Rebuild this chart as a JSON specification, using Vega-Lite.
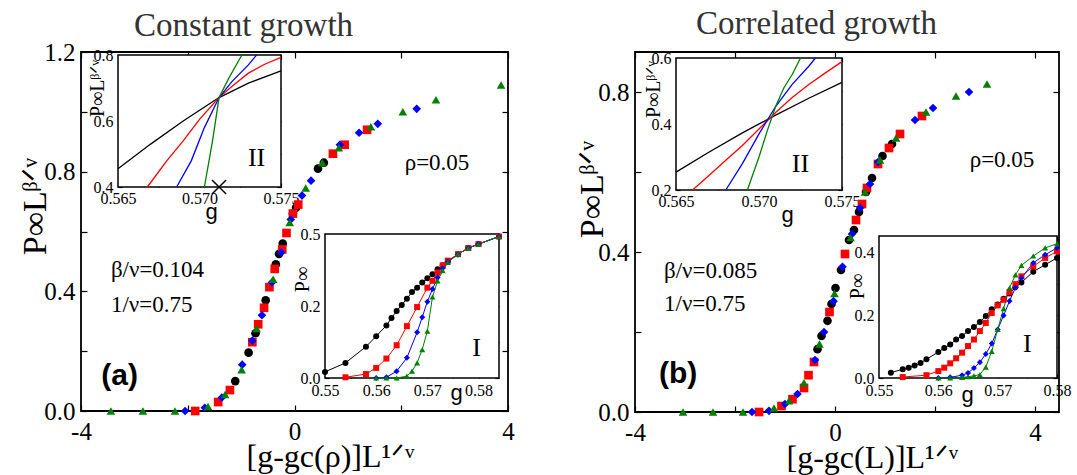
{
"$schema": "https://vega.github.io/schema/vega-lite/v6.json",
"background": "white",
"padding": {"left": 17, "top": 7, "right": 5, "bottom": 3},
"spacing": 58,
"config": {
  "view": {"stroke": "black", "strokeWidth": 1.8},
  "axis": {"grid": false, "domain": false, "tickColor": "black", "tickWidth": 1.2, "labelColor": "black", "labelFont": "Liberation Serif", "titleFont": "Liberation Serif", "titleColor": "black", "titleFontWeight": "normal", "zindex": 1, "labelOverlap": false, "labelFlush": false, "labelBound": false},
  "text": {"font": "Liberation Serif", "color": "black"}
},
"datasets": {
  "mainA": [
    {"s":"a","x":-1.11,"y":0.10},{"s":"a","x":-0.86,"y":0.195},{"s":"a","x":-0.73,"y":0.26},{"s":"a","x":-0.54,"y":0.37},{"s":"a","x":-0.35,"y":0.49},{"s":"a","x":-0.29,"y":0.525},{"s":"a","x":-0.22,"y":0.56},{"s":"a","x":-0.03,"y":0.66},{"s":"a","x":0.03,"y":0.68},{"s":"a","x":0.44,"y":0.81},{"s":"a","x":0.55,"y":0.83},
    {"s":"b","x":-1.86,"y":0.0},{"s":"b","x":-1.43,"y":0.03},{"s":"b","x":-1.21,"y":0.07},{"s":"b","x":-0.79,"y":0.23},{"s":"b","x":-0.68,"y":0.29},{"s":"b","x":-0.57,"y":0.345},{"s":"b","x":-0.47,"y":0.414},{"s":"b","x":-0.37,"y":0.475},{"s":"b","x":-0.23,"y":0.54},{"s":"b","x":-0.15,"y":0.595},{"s":"b","x":-0.03,"y":0.66},{"s":"b","x":0.07,"y":0.69},{"s":"b","x":0.72,"y":0.86},{"s":"b","x":0.94,"y":0.89},{"s":"b","x":1.36,"y":0.94},
    {"s":"c","x":-2.05,"y":0.0},{"s":"c","x":-1.68,"y":0.011},{"s":"c","x":-1.36,"y":0.045},{"s":"c","x":-0.98,"y":0.155},{"s":"c","x":-0.79,"y":0.235},{"s":"c","x":-0.61,"y":0.32},{"s":"c","x":-0.42,"y":0.43},{"s":"c","x":-0.25,"y":0.53},{"s":"c","x":-0.07,"y":0.64},{"s":"c","x":0.14,"y":0.72},{"s":"c","x":0.31,"y":0.77},{"s":"c","x":0.85,"y":0.89},{"s":"c","x":1.21,"y":0.93},{"s":"c","x":1.56,"y":0.96},{"s":"c","x":2.29,"y":1.01},
    {"s":"d","x":-3.44,"y":0.0},{"s":"d","x":-2.84,"y":0.0},{"s":"d","x":-2.24,"y":0.0},{"s":"d","x":-1.62,"y":0.015},{"s":"d","x":-1.3,"y":0.055},{"s":"d","x":-0.99,"y":0.138},{"s":"d","x":-0.71,"y":0.276},{"s":"d","x":-0.40,"y":0.44},{"s":"d","x":-0.09,"y":0.63},{"s":"d","x":0.21,"y":0.745},{"s":"d","x":0.52,"y":0.83},{"s":"d","x":0.83,"y":0.88},{"s":"d","x":1.43,"y":0.95},{"s":"d","x":2.03,"y":1.0},{"s":"d","x":2.65,"y":1.04},{"s":"d","x":3.87,"y":1.09}
  ],
  "mainB": [
    {"s":"a","x":-0.35,"y":0.157},{"s":"a","x":-0.27,"y":0.19},{"s":"a","x":-0.15,"y":0.228},{"s":"a","x":-0.07,"y":0.27},{"s":"a","x":0.01,"y":0.31},{"s":"a","x":0.12,"y":0.355},{"s":"a","x":0.28,"y":0.43},{"s":"a","x":0.38,"y":0.455},{"s":"a","x":0.48,"y":0.50},{"s":"a","x":0.62,"y":0.55},{"s":"a","x":0.74,"y":0.585},{"s":"a","x":0.95,"y":0.64},{"s":"a","x":1.14,"y":0.67},
    {"s":"b","x":-1.52,"y":0.0},{"s":"b","x":-1.07,"y":0.015},{"s":"b","x":-0.85,"y":0.032},{"s":"b","x":-0.62,"y":0.06},{"s":"b","x":-0.53,"y":0.092},{"s":"b","x":-0.42,"y":0.125},{"s":"b","x":-0.11,"y":0.25},{"s":"b","x":0.2,"y":0.395},{"s":"b","x":0.42,"y":0.48},{"s":"b","x":0.54,"y":0.52},{"s":"b","x":0.64,"y":0.56},{"s":"b","x":0.86,"y":0.62},{"s":"b","x":1.08,"y":0.66},{"s":"b","x":1.3,"y":0.695},{"s":"b","x":1.74,"y":0.74},
    {"s":"c","x":-1.66,"y":0.0},{"s":"c","x":-1.32,"y":0.003},{"s":"c","x":-1.0,"y":0.02},{"s":"c","x":-0.75,"y":0.045},{"s":"c","x":-0.4,"y":0.13},{"s":"c","x":-0.22,"y":0.2},{"s":"c","x":-0.03,"y":0.277},{"s":"c","x":0.15,"y":0.363},{"s":"c","x":0.34,"y":0.445},{"s":"c","x":0.5,"y":0.51},{"s":"c","x":0.7,"y":0.57},{"s":"c","x":0.86,"y":0.625},{"s":"c","x":1.6,"y":0.73},{"s":"c","x":1.96,"y":0.76},{"s":"c","x":2.68,"y":0.80},
    {"s":"d","x":-3.04,"y":0.0},{"s":"d","x":-2.44,"y":0.0},{"s":"d","x":-1.84,"y":0.0},{"s":"d","x":-1.22,"y":0.01},{"s":"d","x":-0.92,"y":0.028},{"s":"d","x":-0.62,"y":0.073},{"s":"d","x":-0.31,"y":0.17},{"s":"d","x":-0.01,"y":0.296},{"s":"d","x":0.31,"y":0.436},{"s":"d","x":0.6,"y":0.55},{"s":"d","x":0.9,"y":0.63},{"s":"d","x":1.22,"y":0.685},{"s":"d","x":1.82,"y":0.75},{"s":"d","x":2.42,"y":0.79},{"s":"d","x":3.04,"y":0.82}
  ],
  "ins2A": [
    {"s":"a","g":0.565,"p":0.455},{"s":"a","g":0.567,"p":0.53},{"s":"a","g":0.569,"p":0.60},{"s":"a","g":0.5712,"p":0.671},{"s":"a","g":0.573,"p":0.715},{"s":"a","g":0.575,"p":0.752},
    {"s":"b","g":0.5668,"p":0.40},{"s":"b","g":0.568,"p":0.48},{"s":"b","g":0.569,"p":0.54},{"s":"b","g":0.570,"p":0.605},{"s":"b","g":0.5712,"p":0.671},{"s":"b","g":0.572,"p":0.705},{"s":"b","g":0.573,"p":0.745},{"s":"b","g":0.574,"p":0.772},{"s":"b","g":0.575,"p":0.793},
    {"s":"c","g":0.5686,"p":0.40},{"s":"c","g":0.5695,"p":0.48},{"s":"c","g":0.5703,"p":0.58},{"s":"c","g":0.5712,"p":0.671},{"s":"c","g":0.572,"p":0.72},{"s":"c","g":0.573,"p":0.77},{"s":"c","g":0.5735,"p":0.80},
    {"s":"d","g":0.5703,"p":0.40},{"s":"d","g":0.5708,"p":0.54},{"s":"d","g":0.5712,"p":0.671},{"s":"d","g":0.5718,"p":0.73},{"s":"d","g":0.5726,"p":0.80}
  ],
  "ins1A": [
    {"s":"a","g":0.550,"p":0.017},{"s":"a","g":0.554,"p":0.042},{"s":"a","g":0.558,"p":0.087},{"s":"a","g":0.560,"p":0.116},{"s":"a","g":0.562,"p":0.146},{"s":"a","g":0.563,"p":0.167},{"s":"a","g":0.564,"p":0.186},{"s":"a","g":0.565,"p":0.203},{"s":"a","g":0.566,"p":0.22},{"s":"a","g":0.567,"p":0.239},{"s":"a","g":0.568,"p":0.251},{"s":"a","g":0.569,"p":0.265},{"s":"a","g":0.570,"p":0.277},{"s":"a","g":0.571,"p":0.288},{"s":"a","g":0.572,"p":0.302},{"s":"a","g":0.573,"p":0.313},{"s":"a","g":0.574,"p":0.324},{"s":"a","g":0.576,"p":0.344},{"s":"a","g":0.578,"p":0.361},{"s":"a","g":0.580,"p":0.372},{"s":"a","g":0.584,"p":0.393},
    {"s":"b","g":0.554,"p":0.002},{"s":"b","g":0.558,"p":0.011},{"s":"b","g":0.560,"p":0.028},{"s":"b","g":0.562,"p":0.054},{"s":"b","g":0.564,"p":0.091},{"s":"b","g":0.566,"p":0.144},{"s":"b","g":0.568,"p":0.197},{"s":"b","g":0.570,"p":0.251},{"s":"b","g":0.571,"p":0.27},{"s":"b","g":0.572,"p":0.293},{"s":"b","g":0.573,"p":0.313},{"s":"b","g":0.574,"p":0.326},{"s":"b","g":0.576,"p":0.344},{"s":"b","g":0.578,"p":0.361},{"s":"b","g":0.580,"p":0.372},{"s":"b","g":0.584,"p":0.393},
    {"s":"c","g":0.560,"p":0.0},{"s":"c","g":0.562,"p":0.002},{"s":"c","g":0.564,"p":0.019},{"s":"c","g":0.566,"p":0.056},{"s":"c","g":0.568,"p":0.127},{"s":"c","g":0.569,"p":0.169},{"s":"c","g":0.570,"p":0.212},{"s":"c","g":0.571,"p":0.247},{"s":"c","g":0.572,"p":0.279},{"s":"c","g":0.573,"p":0.305},{"s":"c","g":0.574,"p":0.323},{"s":"c","g":0.576,"p":0.344},{"s":"c","g":0.578,"p":0.361},{"s":"c","g":0.580,"p":0.372},{"s":"c","g":0.584,"p":0.393},
    {"s":"d","g":0.560,"p":0.0},{"s":"d","g":0.562,"p":0.0},{"s":"d","g":0.564,"p":0.0},{"s":"d","g":0.566,"p":0.005},{"s":"d","g":0.567,"p":0.019},{"s":"d","g":0.568,"p":0.042},{"s":"d","g":0.569,"p":0.079},{"s":"d","g":0.570,"p":0.13},{"s":"d","g":0.571,"p":0.225},{"s":"d","g":0.572,"p":0.27},{"s":"d","g":0.573,"p":0.298},{"s":"d","g":0.574,"p":0.321},{"s":"d","g":0.576,"p":0.344},{"s":"d","g":0.578,"p":0.361},{"s":"d","g":0.580,"p":0.372},{"s":"d","g":0.584,"p":0.393}
  ],
  "ins2B": [
    {"s":"a","g":0.565,"p":0.254},{"s":"a","g":0.567,"p":0.315},{"s":"a","g":0.569,"p":0.373},{"s":"a","g":0.571,"p":0.427},{"s":"a","g":0.573,"p":0.478},{"s":"a","g":0.575,"p":0.526},
    {"s":"b","g":0.566,"p":0.2},{"s":"b","g":0.567,"p":0.245},{"s":"b","g":0.568,"p":0.29},{"s":"b","g":0.569,"p":0.335},{"s":"b","g":0.570,"p":0.385},{"s":"b","g":0.571,"p":0.435},{"s":"b","g":0.572,"p":0.48},{"s":"b","g":0.573,"p":0.52},{"s":"b","g":0.574,"p":0.555},{"s":"b","g":0.575,"p":0.589},
    {"s":"c","g":0.568,"p":0.2},{"s":"c","g":0.569,"p":0.28},{"s":"c","g":0.570,"p":0.37},{"s":"c","g":0.571,"p":0.453},{"s":"c","g":0.572,"p":0.52},{"s":"c","g":0.573,"p":0.575},{"s":"c","g":0.5734,"p":0.6},
    {"s":"d","g":0.5693,"p":0.2},{"s":"d","g":0.5700,"p":0.3},{"s":"d","g":0.5705,"p":0.38},{"s":"d","g":0.571,"p":0.453},{"s":"d","g":0.5715,"p":0.51},{"s":"d","g":0.572,"p":0.55},{"s":"d","g":0.5725,"p":0.6}
  ],
  "ins1B": [
    {"s":"a","g":0.552,"p":0.017},{"s":"a","g":0.554,"p":0.028},{"s":"a","g":0.555,"p":0.033},{"s":"a","g":0.556,"p":0.04},{"s":"a","g":0.557,"p":0.048},{"s":"a","g":0.558,"p":0.06},{"s":"a","g":0.560,"p":0.083},{"s":"a","g":0.561,"p":0.096},{"s":"a","g":0.562,"p":0.107},{"s":"a","g":0.563,"p":0.123},{"s":"a","g":0.564,"p":0.134},{"s":"a","g":0.565,"p":0.15},{"s":"a","g":0.566,"p":0.163},{"s":"a","g":0.567,"p":0.179},{"s":"a","g":0.568,"p":0.198},{"s":"a","g":0.569,"p":0.22},{"s":"a","g":0.570,"p":0.235},{"s":"a","g":0.571,"p":0.253},{"s":"a","g":0.572,"p":0.27},{"s":"a","g":0.573,"p":0.29},{"s":"a","g":0.574,"p":0.305},{"s":"a","g":0.576,"p":0.34},{"s":"a","g":0.578,"p":0.362},{"s":"a","g":0.580,"p":0.384},
    {"s":"b","g":0.554,"p":0.003},{"s":"b","g":0.558,"p":0.009},{"s":"b","g":0.560,"p":0.022},{"s":"b","g":0.561,"p":0.033},{"s":"b","g":0.562,"p":0.047},{"s":"b","g":0.563,"p":0.063},{"s":"b","g":0.564,"p":0.081},{"s":"b","g":0.565,"p":0.102},{"s":"b","g":0.566,"p":0.123},{"s":"b","g":0.567,"p":0.15},{"s":"b","g":0.568,"p":0.176},{"s":"b","g":0.569,"p":0.208},{"s":"b","g":0.570,"p":0.232},{"s":"b","g":0.571,"p":0.25},{"s":"b","g":0.572,"p":0.275},{"s":"b","g":0.573,"p":0.3},{"s":"b","g":0.574,"p":0.325},{"s":"b","g":0.576,"p":0.357},{"s":"b","g":0.578,"p":0.384},{"s":"b","g":0.580,"p":0.405},
    {"s":"c","g":0.560,"p":0.0},{"s":"c","g":0.562,"p":0.002},{"s":"c","g":0.564,"p":0.009},{"s":"c","g":0.565,"p":0.016},{"s":"c","g":0.566,"p":0.032},{"s":"c","g":0.567,"p":0.05},{"s":"c","g":0.568,"p":0.077},{"s":"c","g":0.569,"p":0.11},{"s":"c","g":0.570,"p":0.155},{"s":"c","g":0.571,"p":0.2},{"s":"c","g":0.572,"p":0.246},{"s":"c","g":0.573,"p":0.289},{"s":"c","g":0.574,"p":0.32},{"s":"c","g":0.576,"p":0.368},{"s":"c","g":0.578,"p":0.394},{"s":"c","g":0.580,"p":0.416},
    {"s":"d","g":0.560,"p":0.0},{"s":"d","g":0.562,"p":0.0},{"s":"d","g":0.564,"p":0.002},{"s":"d","g":0.565,"p":0.004},{"s":"d","g":0.566,"p":0.007},{"s":"d","g":0.567,"p":0.011},{"s":"d","g":0.568,"p":0.035},{"s":"d","g":0.569,"p":0.085},{"s":"d","g":0.570,"p":0.155},{"s":"d","g":0.571,"p":0.222},{"s":"d","g":0.572,"p":0.288},{"s":"d","g":0.573,"p":0.33},{"s":"d","g":0.574,"p":0.36},{"s":"d","g":0.576,"p":0.39},{"s":"d","g":0.578,"p":0.416},{"s":"d","g":0.580,"p":0.429}
  ]
},
"hconcat": [
{
  "width": 427, "height": 359,
  "title": {"text": "Constant growth", "anchor": "start", "frame": "group", "dx": 53, "font": "Liberation Serif", "fontSize": 33, "fontWeight": "normal", "color": "#333333", "offset": -3},
  "layer": [
    {
      "layer": [
        {"data": {"name": "mainA"}, "mark": {"type": "point", "filled": true, "size": 75, "opacity": 1},
         "encoding": {
           "x": {"field": "x", "type": "quantitative", "scale": {"domain": [-4, 4], "nice": false, "zero": false},
                 "axis": {"orient": "bottom", "values": [-4,-2,0,2,4], "labelExpr": "datum.value % 4 == 0 ? (datum.value < 0 ? '-' : '') + abs(datum.value) : ''", "tickSize": -6, "labelPadding": 14, "labelFontSize": 25, "title": "[g-gc(ρ)]L¹ᐟᵛ", "titleFontSize": 32, "titleX": 165, "titleY": 55, "titleAlign": "left", "titleBaseline": "alphabetic"}},
           "y": {"field": "y", "type": "quantitative", "scale": {"domain": [0, 1.2], "nice": false, "zero": false},
                 "axis": {"orient": "left", "values": [0,0.2,0.4,0.6,0.8,1.0,1.2], "labelExpr": "indexof(['0.0','0.4','0.8','1.2'], format(datum.value, '.1f')) >= 0 ? format(datum.value, '.1f') : ''", "tickSize": -6, "labelPadding": 12, "labelFontSize": 25, "title": "P∞Lᵝᐟᵛ", "titleFontSize": 34, "titleAngle": -90, "titleX": -36, "titleY": 154, "titleAlign": "center", "titleBaseline": "alphabetic"}},
           "color": {"field": "s", "type": "nominal", "scale": {"domain": ["a","b","c","d"], "range": ["#000000","#ff0000","#0000ff","#008000"]}, "legend": null},
           "shape": {"field": "s", "type": "nominal", "scale": {"domain": ["a","b","c","d"], "range": ["circle","square","diamond","triangle-up"]}, "legend": null}
         }},
        {"data": {"name": "mainA"}, "mark": {"type": "point", "opacity": 0},
         "encoding": {
           "x": {"field": "x", "type": "quantitative", "axis": {"orient": "top", "values": [-4,-2,0,2,4], "labels": false, "tickSize": -6, "title": null}},
           "y": {"field": "y", "type": "quantitative", "axis": {"orient": "right", "values": [0,0.2,0.4,0.6,0.8,1.0,1.2], "labels": false, "tickSize": -6, "title": null}}
         }},
        {"data": {"values": [{}]}, "mark": {"type": "text", "text": "ρ=0.05", "font": "Liberation Serif", "fontSize": 23, "align": "center", "baseline": "middle"},
         "encoding": {"x": {"datum": 2.67, "axis": null}, "y": {"datum": 0.83, "axis": null}}},
        {"data": {"values": [{}]}, "mark": {"type": "text", "text": "β/ν=0.104", "font": "Liberation Serif", "fontSize": 23, "align": "left", "baseline": "middle"},
         "encoding": {"x": {"datum": -3.44, "axis": null}, "y": {"datum": 0.47, "axis": null}}},
        {"data": {"values": [{}]}, "mark": {"type": "text", "text": "1/ν=0.75", "font": "Liberation Serif", "fontSize": 23, "align": "left", "baseline": "middle"},
         "encoding": {"x": {"datum": -3.44, "axis": null}, "y": {"datum": 0.353, "axis": null}}},
        {"data": {"values": [{}]}, "mark": {"type": "text", "text": "(a)", "font": "Liberation Sans", "fontWeight": "bold", "fontSize": 30, "align": "left", "baseline": "middle"},
         "encoding": {"x": {"datum": -3.62, "axis": null}, "y": {"datum": 0.117, "axis": null}}}
      ],
      "resolve": {"axis": {"x": "independent", "y": "independent"}}
    },
    {
      "layer": [
        {"data": {"values": [{}]}, "mark": {"type": "rect", "fill": "white", "stroke": "black", "strokeWidth": 1.5},
         "encoding": {
           "x": {"datum": 0.565, "scale": {"domain": [0.565, 0.575], "range": [37, 200], "nice": false, "zero": false}, "axis": null},
           "x2": {"datum": 0.575},
           "y": {"datum": 0.4, "scale": {"domain": [0.4, 0.8], "range": [135, 3], "nice": false, "zero": false}, "axis": null},
           "y2": {"datum": 0.8}
         }},
        {"data": {"name": "ins2A"}, "mark": {"type": "line", "strokeWidth": 1.3},
         "encoding": {
           "x": {"field": "g", "type": "quantitative", "scale": {"domain": [0.565, 0.575], "range": [37, 200], "nice": false, "zero": false},
                 "axis": {"orient": "bottom", "offset": -224, "values": [0.565,0.5675,0.57,0.5725,0.575], "labelExpr": "indexof(['0.565','0.570','0.575'], format(datum.value, '.3f')) >= 0 ? format(datum.value, '.3f') : ''", "tickSize": -4, "labelPadding": 7, "labelFontSize": 16, "title": "g", "titleFont": "Liberation Sans", "titleFontSize": 22, "titleX": 130, "titleY": 31, "titleAlign": "center", "titleBaseline": "alphabetic"}},
           "y": {"field": "p", "type": "quantitative", "scale": {"domain": [0.4, 0.8], "range": [135, 3], "nice": false, "zero": false},
                 "axis": {"orient": "left", "offset": -37, "values": [0.4,0.5,0.6,0.7,0.8], "labelExpr": "indexof(['0.4','0.6','0.8'], format(datum.value, '.1f')) >= 0 ? format(datum.value, '.1f') : ''", "tickSize": -4, "labelPadding": 9, "labelFontSize": 16, "title": "P∞Lᵝᐟᵛ", "titleFontSize": 20, "titleAngle": -90, "titleX": -21, "titleY": 36, "titleAlign": "center", "titleBaseline": "middle"}},
           "color": {"field": "s", "type": "nominal", "legend": null}
         }},
        {"data": {"name": "ins2A"}, "mark": {"type": "point", "opacity": 0},
         "encoding": {
           "x": {"field": "g", "type": "quantitative", "axis": {"orient": "top", "offset": -3, "values": [0.565,0.5675,0.57,0.5725,0.575], "labels": false, "tickSize": -4, "title": null}},
           "y": {"field": "p", "type": "quantitative", "axis": {"orient": "right", "offset": -227, "values": [0.4,0.5,0.6,0.7,0.8], "labels": false, "tickSize": -4, "title": null}}
         }},
        {"data": {"values": [{}]}, "mark": {"type": "text", "text": "II", "font": "Liberation Serif", "fontSize": 26, "align": "center", "baseline": "middle"},
         "encoding": {"x": {"datum": 0.5735, "axis": null}, "y": {"datum": 0.488, "axis": null}}},
        {"data": {"values": [{}]}, "mark": {"type": "point", "shape": "M-1,-1L1,1M-1,1L1,-1", "filled": false, "stroke": "black", "strokeWidth": 1.5, "size": 200, "opacity": 1},
         "encoding": {"x": {"datum": 0.5712, "axis": null}, "y": {"datum": 0.4, "axis": null}}}
      ],
      "resolve": {"axis": {"x": "independent", "y": "independent"}}
    },
    {
      "layer": [
        {"data": {"values": [{}]}, "mark": {"type": "rect", "fill": "white", "stroke": "black", "strokeWidth": 1.5},
         "encoding": {
           "x": {"datum": 0.55, "scale": {"domain": [0.55, 0.584], "range": [244, 418], "nice": false, "zero": false}, "axis": null},
           "x2": {"datum": 0.584},
           "y": {"datum": 0.0, "scale": {"domain": [0, 0.4], "range": [326, 182], "nice": false, "zero": false}, "axis": null},
           "y2": {"datum": 0.4}
         }},
        {"data": {"name": "ins1A"}, "mark": {"type": "line", "strokeWidth": 1},
         "encoding": {
           "x": {"field": "g", "type": "quantitative", "scale": {"domain": [0.55, 0.584], "range": [244, 418], "nice": false, "zero": false},
                 "axis": {"orient": "bottom", "offset": -33, "values": [0.55,0.555,0.56,0.565,0.57,0.575,0.58], "labelExpr": "abs(datum.value*100 - round(datum.value*100)) < 0.01 ? format(datum.value, '.2f') : ''", "tickSize": -4, "labelPadding": 8, "labelFontSize": 16, "title": "g", "titleFont": "Liberation Sans", "titleFontSize": 22, "titleX": 375, "titleY": 21, "titleAlign": "center", "titleBaseline": "alphabetic"}},
           "y": {"field": "p", "type": "quantitative", "scale": {"domain": [0, 0.4], "range": [326, 182], "nice": false, "zero": false},
                 "axis": {"orient": "left", "offset": -244, "values": [0,0.1,0.2,0.3,0.4], "labelExpr": "datum.value == 0 ? '0.0' : datum.value == 0.2 ? '0.2' : datum.value == 0.4 ? '0.5' : ''", "tickSize": -4, "labelPadding": 9, "labelFontSize": 16, "title": "P∞", "titleFontSize": 20, "titleAngle": -90, "titleX": -23, "titleY": 227, "titleAlign": "center", "titleBaseline": "middle"}},
           "color": {"field": "s", "type": "nominal", "legend": null}
         }},
        {"data": {"name": "ins1A"}, "mark": {"type": "point", "filled": true, "size": 36, "opacity": 1},
         "encoding": {
           "x": {"field": "g", "type": "quantitative", "axis": {"orient": "top", "offset": -182, "values": [0.55,0.555,0.56,0.565,0.57,0.575,0.58], "labels": false, "tickSize": -4, "title": null}},
           "y": {"field": "p", "type": "quantitative", "axis": {"orient": "right", "offset": -9, "values": [0,0.1,0.2,0.3,0.4], "labels": false, "tickSize": -4, "title": null}},
           "color": {"field": "s", "type": "nominal", "legend": null},
           "shape": {"field": "s", "type": "nominal", "legend": null}
         }},
        {"data": {"values": [{}]}, "mark": {"type": "text", "text": "I", "font": "Liberation Serif", "fontSize": 26, "align": "center", "baseline": "middle"},
         "encoding": {"x": {"datum": 0.5796, "axis": null}, "y": {"datum": 0.083, "axis": null}}}
      ],
      "resolve": {"axis": {"x": "independent", "y": "independent"}}
    }
  ],
  "resolve": {"scale": {"x": "independent", "y": "independent"}}
},
{
  "width": 424, "height": 360,
  "title": {"text": "Correlated growth", "anchor": "start", "frame": "group", "dx": 61, "font": "Liberation Serif", "fontSize": 33, "fontWeight": "normal", "color": "#333333", "offset": 9},
  "layer": [
    {
      "layer": [
        {"data": {"name": "mainB"}, "mark": {"type": "point", "filled": true, "size": 75, "opacity": 1},
         "encoding": {
           "x": {"field": "x", "type": "quantitative", "scale": {"domain": [-4, 4.48], "nice": false, "zero": false},
                 "axis": {"orient": "bottom", "values": [-4,-2,0,2,4], "labelExpr": "datum.value % 4 == 0 ? (datum.value < 0 ? '-' : '') + abs(datum.value) : ''", "tickSize": -6, "labelPadding": 14, "labelFontSize": 25, "title": "[g-gc(L)]L¹ᐟᵛ", "titleFontSize": 32, "titleX": 151, "titleY": 55, "titleAlign": "left", "titleBaseline": "alphabetic"}},
           "y": {"field": "y", "type": "quantitative", "scale": {"domain": [0, 0.9], "nice": false, "zero": false},
                 "axis": {"orient": "left", "values": [0,0.2,0.4,0.6,0.8], "labelExpr": "indexof(['0.0','0.4','0.8'], format(datum.value, '.1f')) >= 0 ? format(datum.value, '.1f') : ''", "tickSize": -6, "labelPadding": 12, "labelFontSize": 25, "title": "P∞Lᵝᐟᵛ", "titleFontSize": 34, "titleAngle": -90, "titleX": -33, "titleY": 137, "titleAlign": "center", "titleBaseline": "alphabetic"}},
           "color": {"field": "s", "type": "nominal", "scale": {"domain": ["a","b","c","d"], "range": ["#000000","#ff0000","#0000ff","#008000"]}, "legend": null},
           "shape": {"field": "s", "type": "nominal", "scale": {"domain": ["a","b","c","d"], "range": ["circle","square","diamond","triangle-up"]}, "legend": null}
         }},
        {"data": {"name": "mainB"}, "mark": {"type": "point", "opacity": 0},
         "encoding": {
           "x": {"field": "x", "type": "quantitative", "axis": {"orient": "top", "values": [-4,-2,0,2,4], "labels": false, "tickSize": -6, "title": null}},
           "y": {"field": "y", "type": "quantitative", "axis": {"orient": "right", "values": [0,0.2,0.4,0.6,0.8], "labels": false, "tickSize": -6, "title": null}}
         }},
        {"data": {"values": [{}]}, "mark": {"type": "text", "text": "ρ=0.05", "font": "Liberation Serif", "fontSize": 23, "align": "center", "baseline": "middle"},
         "encoding": {"x": {"datum": 3.34, "axis": null}, "y": {"datum": 0.63, "axis": null}}},
        {"data": {"values": [{}]}, "mark": {"type": "text", "text": "β/ν=0.085", "font": "Liberation Serif", "fontSize": 23, "align": "left", "baseline": "middle"},
         "encoding": {"x": {"datum": -3.42, "axis": null}, "y": {"datum": 0.3525, "axis": null}}},
        {"data": {"values": [{}]}, "mark": {"type": "text", "text": "1/ν=0.75", "font": "Liberation Serif", "fontSize": 23, "align": "left", "baseline": "middle"},
         "encoding": {"x": {"datum": -3.42, "axis": null}, "y": {"datum": 0.27, "axis": null}}},
        {"data": {"values": [{}]}, "mark": {"type": "text", "text": "(b)", "font": "Liberation Sans", "fontWeight": "bold", "fontSize": 30, "align": "left", "baseline": "middle"},
         "encoding": {"x": {"datum": -3.52, "axis": null}, "y": {"datum": 0.095, "axis": null}}}
      ],
      "resolve": {"axis": {"x": "independent", "y": "independent"}}
    },
    {
      "layer": [
        {"data": {"values": [{}]}, "mark": {"type": "rect", "fill": "white", "stroke": "black", "strokeWidth": 1.5},
         "encoding": {
           "x": {"datum": 0.565, "scale": {"domain": [0.565, 0.575], "range": [41, 207], "nice": false, "zero": false}, "axis": null},
           "x2": {"datum": 0.575},
           "y": {"datum": 0.2, "scale": {"domain": [0.2, 0.6], "range": [138, 6], "nice": false, "zero": false}, "axis": null},
           "y2": {"datum": 0.6}
         }},
        {"data": {"name": "ins2B"}, "mark": {"type": "line", "strokeWidth": 1.3},
         "encoding": {
           "x": {"field": "g", "type": "quantitative", "scale": {"domain": [0.565, 0.575], "range": [41, 207], "nice": false, "zero": false},
                 "axis": {"orient": "bottom", "offset": -222, "values": [0.565,0.5675,0.57,0.5725,0.575], "labelExpr": "indexof(['0.565','0.570','0.575'], format(datum.value, '.3f')) >= 0 ? format(datum.value, '.3f') : ''", "tickSize": -4, "labelPadding": 7, "labelFontSize": 16, "title": "g", "titleFont": "Liberation Sans", "titleFontSize": 22, "titleX": 152, "titleY": 31, "titleAlign": "center", "titleBaseline": "alphabetic"}},
           "y": {"field": "p", "type": "quantitative", "scale": {"domain": [0.2, 0.6], "range": [138, 6], "nice": false, "zero": false},
                 "axis": {"orient": "left", "offset": -41, "values": [0.2,0.3,0.4,0.5,0.6], "labelExpr": "indexof(['0.2','0.4','0.6'], format(datum.value, '.1f')) >= 0 ? format(datum.value, '.1f') : ''", "tickSize": -4, "labelPadding": 9, "labelFontSize": 16, "title": "P∞Lᵝᐟᵛ", "titleFontSize": 20, "titleAngle": -90, "titleX": -23, "titleY": 37, "titleAlign": "center", "titleBaseline": "middle"}},
           "color": {"field": "s", "type": "nominal", "legend": null}
         }},
        {"data": {"name": "ins2B"}, "mark": {"type": "point", "opacity": 0},
         "encoding": {
           "x": {"field": "g", "type": "quantitative", "axis": {"orient": "top", "offset": -6, "values": [0.565,0.5675,0.57,0.5725,0.575], "labels": false, "tickSize": -4, "title": null}},
           "y": {"field": "p", "type": "quantitative", "axis": {"orient": "right", "offset": -217, "values": [0.2,0.3,0.4,0.5,0.6], "labels": false, "tickSize": -4, "title": null}}
         }},
        {"data": {"values": [{}]}, "mark": {"type": "text", "text": "II", "font": "Liberation Serif", "fontSize": 26, "align": "center", "baseline": "middle"},
         "encoding": {"x": {"datum": 0.5725, "axis": null}, "y": {"datum": 0.28, "axis": null}}}
      ],
      "resolve": {"axis": {"x": "independent", "y": "independent"}}
    },
    {
      "layer": [
        {"data": {"values": [{}]}, "mark": {"type": "rect", "fill": "white", "stroke": "black", "strokeWidth": 1.5},
         "encoding": {
           "x": {"datum": 0.55, "scale": {"domain": [0.55, 0.58], "range": [244, 422], "nice": false, "zero": false}, "axis": null},
           "x2": {"datum": 0.58},
           "y": {"datum": 0.0, "scale": {"domain": [0, 0.454], "range": [326, 184], "nice": false, "zero": false}, "axis": null},
           "y2": {"datum": 0.454}
         }},
        {"data": {"name": "ins1B"}, "mark": {"type": "line", "strokeWidth": 1},
         "encoding": {
           "x": {"field": "g", "type": "quantitative", "scale": {"domain": [0.55, 0.58], "range": [244, 422], "nice": false, "zero": false},
                 "axis": {"orient": "bottom", "offset": -34, "values": [0.55,0.555,0.56,0.565,0.57,0.575,0.58], "labelExpr": "abs(datum.value*100 - round(datum.value*100)) < 0.01 ? format(datum.value, '.2f') : ''", "tickSize": -4, "labelPadding": 8, "labelFontSize": 16, "title": "g", "titleFont": "Liberation Sans", "titleFontSize": 22, "titleX": 332, "titleY": 23, "titleAlign": "center", "titleBaseline": "alphabetic"}},
           "y": {"field": "p", "type": "quantitative", "scale": {"domain": [0, 0.454], "range": [326, 184], "nice": false, "zero": false},
                 "axis": {"orient": "left", "offset": -244, "values": [0,0.1,0.2,0.3,0.4], "labelExpr": "indexof(['0.0','0.2','0.4'], format(datum.value, '.1f')) >= 0 ? format(datum.value, '.1f') : ''", "tickSize": -4, "labelPadding": 9, "labelFontSize": 16, "title": "P∞", "titleFontSize": 20, "titleAngle": -90, "titleX": -22, "titleY": 234, "titleAlign": "center", "titleBaseline": "middle"}},
           "color": {"field": "s", "type": "nominal", "legend": null}
         }},
        {"data": {"name": "ins1B"}, "mark": {"type": "point", "filled": true, "size": 36, "opacity": 1},
         "encoding": {
           "x": {"field": "g", "type": "quantitative", "axis": {"orient": "top", "offset": -184, "values": [0.55,0.555,0.56,0.565,0.57,0.575,0.58], "labels": false, "tickSize": -4, "title": null}},
           "y": {"field": "p", "type": "quantitative", "axis": {"orient": "right", "offset": -2, "values": [0,0.1,0.2,0.3,0.4], "labels": false, "tickSize": -4, "title": null}},
           "color": {"field": "s", "type": "nominal", "legend": null},
           "shape": {"field": "s", "type": "nominal", "legend": null}
         }},
        {"data": {"values": [{}]}, "mark": {"type": "text", "text": "I", "font": "Liberation Serif", "fontSize": 26, "align": "center", "baseline": "middle"},
         "encoding": {"x": {"datum": 0.575, "axis": null}, "y": {"datum": 0.109, "axis": null}}}
      ],
      "resolve": {"axis": {"x": "independent", "y": "independent"}}
    }
  ],
  "resolve": {"scale": {"x": "independent", "y": "independent"}}
}
]
}
